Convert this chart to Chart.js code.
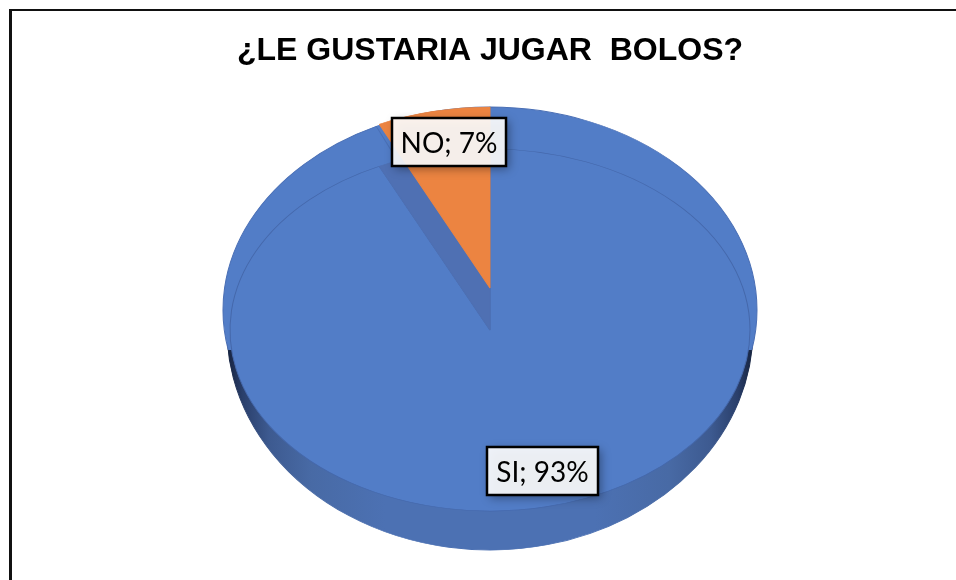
<!DOCTYPE html>
<html>
<head>
<meta charset="utf-8">
<style>
    html, body { margin: 0; background: #fff; overflow: hidden; }
    #frame {
        position: absolute; left: 9px; top: 9px; right: 0; bottom: 0;
        border-left: 3px solid #111; border-top: 2px solid #111;
    }
    #wrap { position: absolute; left: 24px; top: 0; width: 932px; height: 580px; }
</style>
<script src="https://cdn.jsdelivr.net/npm/chart.js@4"></script>
</head>
<body>
<div id="frame"></div>
<div id="wrap"><canvas id="pie"></canvas></div>
<script>
const TITLE = "¿LE GUSTARIA JUGAR  BOLOS?";
const CATEGORIES = ["SI", "NO"];
const VALUES = [93, 7];

const BLUE = "#527dc7";
const ORANGE = "#ec8441";
const WALL = "#4f70b3";

// ellipses for each layer of the fake 3D disc, in canvas pixels
const SIDE = { cy: 330, rx: 263, ry: 220 };
const RIM = { cy: 310, rx: 267, ry: 203 };
const FACE = { cy: 330, rx: 260, ry: 181 };
const LIFTED = { cy: 288, rx: 260, ry: 181 };
const RIM_BOTTOM = 350;

// label boxes, canvas pixels
const BOXES = [
    { x: 463, y: 447, w: 111, h: 48 },
    { x: 368, y: 118, w: 114, h: 48 }
];

function drawLayer(ctx, arc, shape, fill, line) {
    const saved = arc.options;
    arc.options = { ...saved, backgroundColor: fill, borderColor: line || fill, borderWidth: 1 };
    ctx.save();
    ctx.translate(arc.x, shape.cy);
    ctx.scale(shape.rx / arc.outerRadius, shape.ry / arc.outerRadius);
    ctx.translate(-arc.x, -arc.y);
    arc.draw(ctx);
    ctx.restore();
    arc.options = saved;
}

const disc3d = {
    id: "disc3d",
    beforeDatasetsDraw(chart) {
        const ctx = chart.ctx;
        const [si, no] = chart.getDatasetMeta(0).data;

        const r = si.outerRadius;
        const side = ctx.createLinearGradient(si.x - r, 0, si.x + r, 0);
        side.addColorStop(0, "#16233f");
        side.addColorStop(0.03, "#2a3f6b");
        side.addColorStop(0.08, "#3d5a90");
        side.addColorStop(0.16, "#486aa5");
        side.addColorStop(0.3, "#4c71b3");
        side.addColorStop(0.7, "#4c71b3");
        side.addColorStop(0.84, "#486aa5");
        side.addColorStop(0.92, "#3d5a90");
        side.addColorStop(0.97, "#2a3f6b");
        side.addColorStop(1, "#16233f");
        drawLayer(ctx, si, SIDE, side);
        drawLayer(ctx, no, SIDE, side);

        // upper rim stops where the side wall starts
        ctx.save();
        ctx.beginPath();
        ctx.rect(0, 0, chart.width, RIM_BOTTOM);
        ctx.clip();
        drawLayer(ctx, no, RIM, BLUE);
        drawLayer(ctx, si, RIM, BLUE, "#4a6fb5");
        ctx.restore();

        drawLayer(ctx, si, FACE, BLUE, "#4568ab");
        drawLayer(ctx, no, FACE, WALL);
        drawLayer(ctx, no, LIFTED, ORANGE);
        return false;
    },
    afterDraw(chart) {
        const ctx = chart.ctx;
        ctx.save();
        CATEGORIES.forEach((cat, i) => {
            const b = BOXES[i];
            ctx.save();
            ctx.shadowColor = "rgba(0,0,0,0.4)";
            ctx.shadowBlur = 9;
            ctx.shadowOffsetX = 3;
            ctx.shadowOffsetY = 3;
            ctx.fillStyle = "rgba(255,255,255,0.9)";
            ctx.fillRect(b.x, b.y, b.w, b.h);
            ctx.restore();
            ctx.strokeStyle = "#000";
            ctx.lineWidth = 2.5;
            ctx.strokeRect(b.x, b.y, b.w, b.h);
            ctx.fillStyle = "#000";
            ctx.font = "28px Lato";
            ctx.textAlign = "center";
            ctx.textBaseline = "middle";
            ctx.fillText(`${cat}; ${VALUES[i]}%`, b.x + b.w / 2, b.y + b.h / 2 + 2);
        });
        ctx.restore();
    }
};

new Chart(document.getElementById("pie"), {
    type: "pie",
    data: {
        labels: CATEGORIES,
        datasets: [{
            data: VALUES,
            backgroundColor: [BLUE, ORANGE],
            radius: 259
        }]
    },
    options: {
        responsive: true,
        maintainAspectRatio: false,
        animation: false,
        plugins: {
            legend: { display: false },
            tooltip: { enabled: false },
            title: {
                display: true,
                text: TITLE,
                color: "#000",
                font: { family: "Liberation Sans", size: 32, weight: "bold" },
                padding: { top: 32, bottom: 10 }
            }
        }
    },
    plugins: [disc3d]
});
</script>
</body>
</html>
